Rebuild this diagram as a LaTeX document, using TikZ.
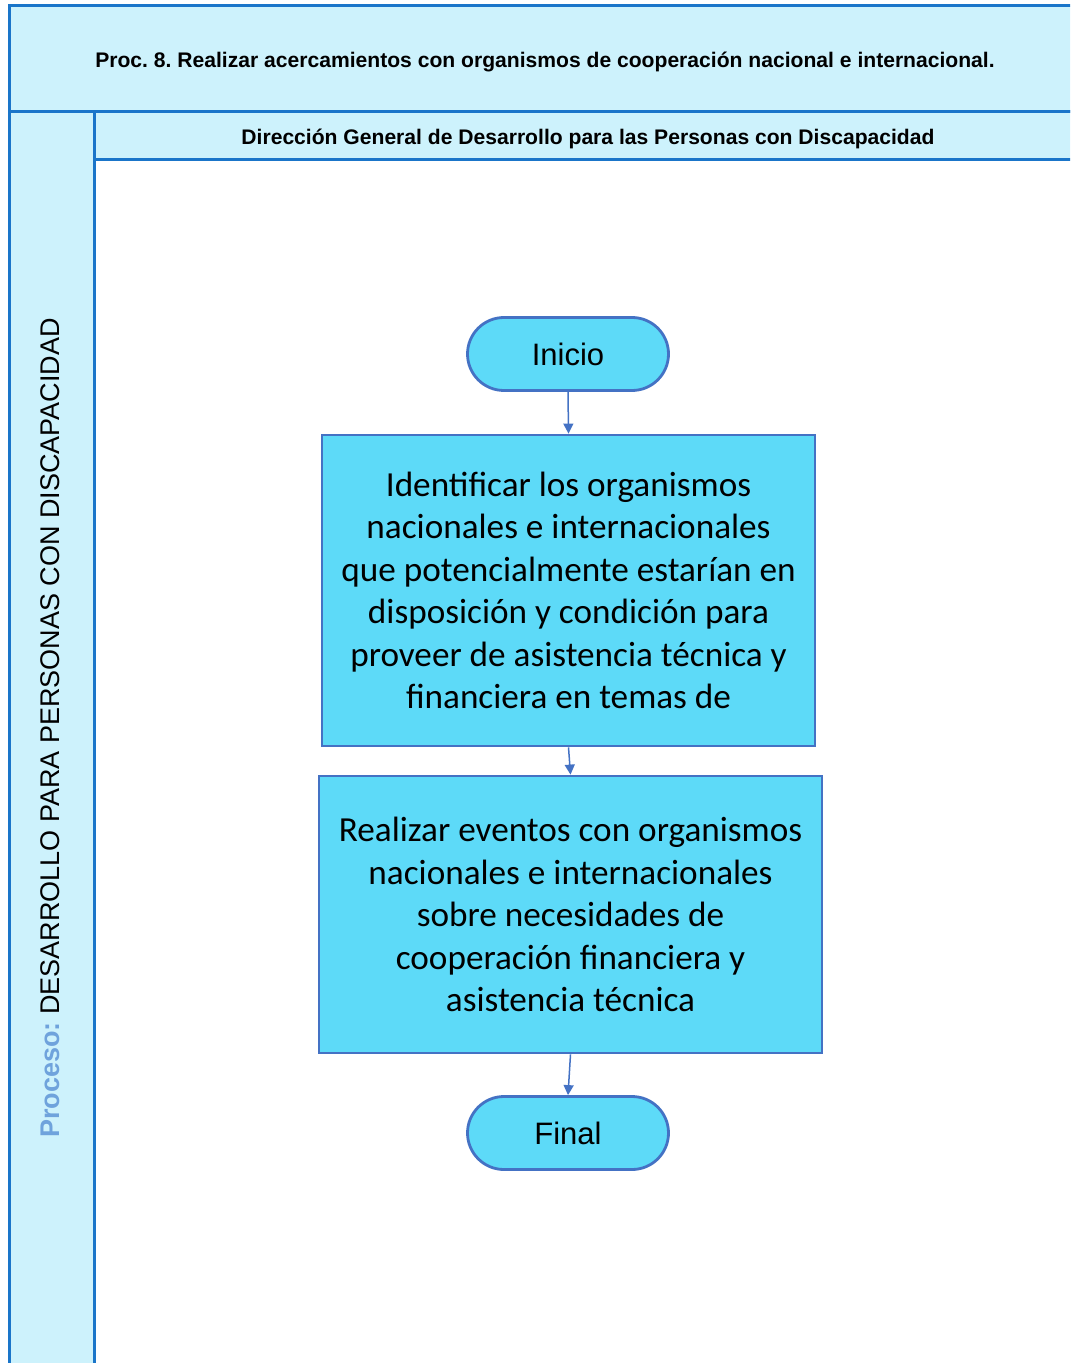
\documentclass[tikz,border=0pt]{standalone}
\usepackage{fontspec}
\setmainfont{Liberation Sans}
\newfontfamily\calib{Carlito}
\usetikzlibrary{arrows.meta,shapes.misc}
\definecolor{lane}{HTML}{CDF2FC}
\definecolor{frameblue}{HTML}{1A75C9}
\definecolor{nodefill}{HTML}{5DDAF8}
\definecolor{nodeline}{HTML}{4472C4}
\definecolor{procblue}{HTML}{6FA3DC}
\frenchspacing
\tikzset{
  framel/.style={draw=frameblue,line width=1.5pt,fill=lane},
  term/.style={rounded rectangle,draw=nodeline,fill=nodefill,line width=1.4pt,minimum width=100.5pt,minimum height=36.5pt,inner sep=0pt,font=\fontsize{15.5}{18}\selectfont},
  procbox/.style={rectangle,draw=nodeline,fill=nodefill,line width=1.4pt,inner sep=0pt,align=center,font=\calib\fontsize{17.6}{21.25}\selectfont},
  conn/.style={draw=nodeline,line width=0.75pt,-{Triangle[width=5pt,length=5pt]}}
}
\begin{document}
\begin{tikzpicture}[x=0.5pt,y=-0.5pt]
\useasboundingbox (0,0) rectangle (1070,1363);
\clip (0,0) rectangle (1070,1363);
\fill[white] (0,0) rectangle (1070,1363);
% frame
\path[framel] (9,6) rectangle (1085,112);
\path[framel] (9,112) rectangle (94,1380);
\path[framel] (94,112) rectangle (1085,160);
\node (title) at (545,62) {\fontsize{10.55}{12}\selectfont\bfseries Proc. 8. Realizar acercamientos con organismos de cooperación nacional e internacional.};
\node (dept) at (588,139) {\fontsize{10.55}{12}\selectfont\bfseries Dirección General de Desarrollo para las Personas con Discapacidad};
\node[rotate=90] (proc) at (50,728) {\fontsize{13.5}{15}\selectfont{\color{procblue}\bfseries Proceso:} DESARROLLO PARA PERSONAS CON DISCAPACIDAD};
% nodes
\node[term] (inicio) at (568,354) {Inicio};
\node[procbox,minimum width=246.5pt,minimum height=155.5pt] (p1) at (568.5,590.5) {Identificar los organismos\\nacionales e internacionales\\que potencialmente estarían en\\disposición y condición para\\proveer de asistencia técnica y\\financiera en temas de};
\node[procbox,minimum width=251.5pt,minimum height=138.5pt] (p2) at (570.5,914.5) {Realizar eventos con organismos\\nacionales e internacionales\\sobre necesidades de\\cooperación financiera y\\asistencia técnica};
\node[term] (final) at (568,1133) {Final};
% connectors
\draw[conn] (inicio.south) -- (p1.north);
\draw[conn] (p1.south) -- (p2.north);
\draw[conn] (p2.south) -- (final.north);
\end{tikzpicture}
\end{document}
